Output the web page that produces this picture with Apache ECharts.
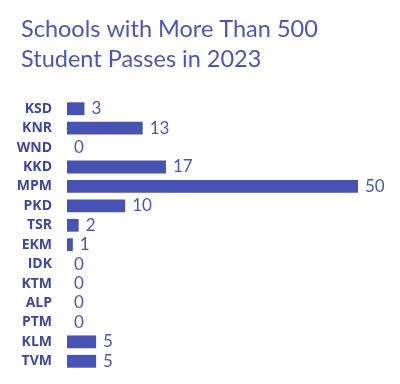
<!DOCTYPE html>
<html><head><meta charset="utf-8">
<script src="https://cdn.jsdelivr.net/npm/echarts@6/dist/echarts.min.js"></script>
<style>html,body{margin:0;padding:0;background:#fff}#c{width:400px;height:384px}</style>
</head><body><div id="c"></div>
<script>
const categories = ["KSD","KNR","WND","KKD","MPM","PKD","TSR","EKM","IDK","KTM","ALP","PTM","KLM","TVM"];
const values = [3,13,0,17,50,10,2,1,0,0,0,0,5,5];
const chart = echarts.init(document.getElementById('c'));
chart.setOption({
  animation:false,
  title:{text:"Schools with More Than 500\nStudent Passes in 2023",left:16,top:9,
    textStyle:{fontFamily:"Lato",fontWeight:"normal",fontSize:23.5,lineHeight:30,color:"#4a55c0"}},
  grid:{left:67,right:42,top:99,bottom:13},
  xAxis:{type:"value",min:0,max:50,show:false},
  yAxis:{type:"category",data:categories,inverse:true,
    axisLine:{show:false},axisTick:{show:false},
    axisLabel:{interval:0,margin:15,fontFamily:"Open Sans",fontWeight:"bold",fontSize:14,color:"#3a47a8"}},
  series:[{type:"bar",data:values,barCategoryGap:"34%",
    itemStyle:{color:"#4752b5"},
    label:{show:true,position:"right",distance:7,fontFamily:"Lato",fontSize:17,color:"#4a55c0"}}]
});
</script></body></html>
